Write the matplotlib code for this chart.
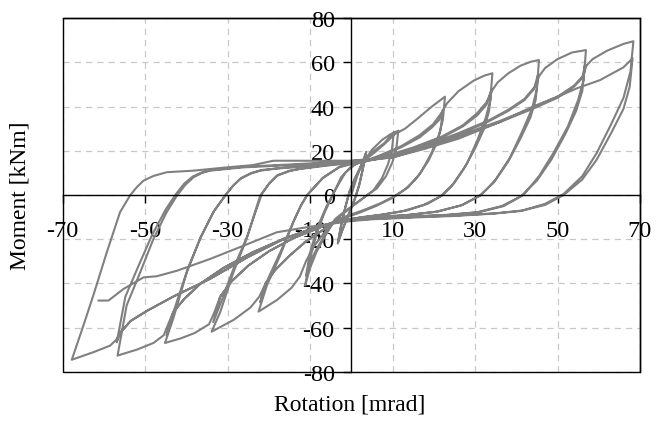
import numpy as np
import matplotlib.pyplot as plt
from matplotlib.patches import Rectangle

plt.rcParams['font.family'] = ['Liberation Serif', 'DejaVu Serif']
plt.rcParams['axes.unicode_minus'] = False

# rotation [mrad], moment [kNm], in test order
start = [(0, 0), (1.5, 9), (3, 16), (3.6, 19.5), (2.8, 12), (2, 5), (1, -1), (-0.5, -8),
         (-2, -15), (-3.3, -22), (-2.5, -14), (-1.5, -6), (-0.5, 1), (1, 8), (2.5, 14),
         (3.5, 18.5), (2.7, 11), (1.8, 4), (0.8, -2), (-0.7, -9), (-2.2, -16), (-3.2, -21),
         (-2.4, -13), (-1.4, -5), (-0.4, 2), (1, 8)]

pos_11a = [(3, 15), (5, 20.5), (7.5, 25), (9.5, 27.5), (11.4, 29.1), (10.9, 21), (10, 15),
           (8.4, 8.5), (6.2, 3), (3.5, -0.5), (1, -4), (-2, -8), (-4, -11)]
neg_11a = [(-6.5, -19), (-8.5, -26), (-10, -33), (-11.2, -41), (-10.2, -30), (-8.5, -18),
           (-6.5, -8), (-4.5, 0), (-2.5, 8), (0, 13), (3, 15.5)]
pos_11b = [(5.5, 20), (8, 23.5), (10.3, 28.4), (9.8, 20), (8.9, 14), (7.4, 7.5), (5.3, 2),
           (2.8, -1.5), (0.3, -5), (-2, -8.5), (-4, -11.5)]
neg_11b = [(-6, -17), (-8, -23), (-9.7, -29), (-11, -36.5), (-10, -26), (-8.3, -15), (-6, -5),
           (-4, 2), (-1.5, 10), (1, 14), (3, 15.5)]

pos_22a = [(5.5, 19), (8, 23), (10.5, 27.5), (13, 30), (16, 34.5), (19.5, 40), (22.7, 44.5),
           (22.2, 34), (21.2, 27), (19.3, 18.5), (16.8, 10), (13.8, 3.5), (10.5, -0.5),
           (7, -3.8), (3, -6.8), (0, -8.8), (-4, -11.5)]
neg_22a = [(-6.5, -17), (-9, -23), (-11, -30), (-12.5, -37), (-14.5, -42), (-18, -47.5),
           (-22.5, -52.8), (-20.5, -41), (-17.3, -27.5), (-14.1, -12.4), (-12.3, -5),
           (-10.8, -0.3), (-7, 7.5), (-3, 12.5), (0, 14), (3, 15)]
pos_22b = [(7, 17.5), (12, 21.5), (16.5, 26), (19.5, 30.5), (21.3, 34), (22.2, 38.5),
           (21.6, 29), (20.6, 23), (18.7, 15.5), (16, 8), (13, 2.5), (9.8, -1.5), (6, -5),
           (2, -8), (-1, -10), (-4, -11.8)]
neg_22b = [(-7, -16), (-11, -21), (-15, -27.5), (-18.5, -34), (-20.8, -40), (-22.1, -48.6),
           (-20.1, -37.5), (-17, -25), (-13.8, -11), (-12, -4), (-10.5, 0.5), (-6.8, 8),
           (-2.8, 12.8), (0, 14.3), (3, 15.2)]

pos_34a = [(7, 18), (12, 22), (16.5, 27), (19.8, 32), (21.8, 37), (23.2, 41.5), (26, 47),
           (29.6, 51.7), (32.2, 54), (34.2, 55.1), (33.7, 43), (32.6, 35), (30.6, 25),
           (28, 14), (25, 5.5), (22.2, 0), (18.5, -4), (13.5, -7), (8, -8.8), (3, -10),
           (0, -10.8), (-4, -12)]
neg_34a = [(-7, -16), (-11, -21), (-15, -27.5), (-18.5, -34), (-20.8, -40), (-22.3, -46),
           (-24.5, -51), (-28.5, -56.5), (-33.9, -61.9), (-31.8, -53), (-28.6, -35),
           (-25.4, -19.9), (-23.6, -9), (-22.1, -0.3), (-20, 5), (-18.1, 8.7), (-15, 10.8),
           (-12.4, 11.8), (-5, 13.5), (3, 15)]
pos_34b = [(8, 17), (15, 21), (22, 26), (27, 31), (30.5, 36), (32.8, 41), (34, 48),
           (33.4, 38), (32.2, 30), (30, 21), (27.3, 12), (24.3, 4), (21.5, -0.8),
           (17.5, -4.5), (12.5, -7.3), (7, -9), (2, -10.2), (-4, -12.2)]
neg_34b = [(-8, -15), (-14, -19.5), (-20, -25.5), (-25, -32), (-29, -39), (-31.8, -46),
           (-33.5, -57.6), (-31.5, -48), (-28.3, -32), (-25.1, -18), (-23.3, -8),
           (-21.7, 0.5), (-19.8, 5.5), (-17.8, 9), (-15, 11), (-12, 12), (-5, 13.8), (3, 15.2)]

pos_45a = [(8, 17.5), (15, 21.5), (22, 26.5), (27, 31.5), (30.5, 37), (32.8, 42),
           (34.2, 47.5), (35.5, 51), (38, 55), (41, 58.5), (43.5, 60.3), (45.5, 61.1),
           (45, 48), (43.8, 39), (41.5, 29), (38.5, 17), (35, 7), (31.5, 0), (27, -4.5),
           (21, -7.5), (14, -9), (6, -10), (0, -11), (-4, -12)]
neg_45a = [(-8, -15), (-14, -19.5), (-20, -25.5), (-25, -32), (-29, -39), (-31.8, -46),
           (-33.2, -53), (-34.5, -58.5), (-38, -62.5), (-41.5, -65), (-45.2, -67),
           (-43.2, -56), (-39.9, -35), (-36.7, -19.9), (-33.5, -7.8), (-30.6, -0.3),
           (-28.8, 4), (-27, 7.2), (-24.5, 9.6), (-22.1, 11), (-18, 12), (-14.1, 12.5),
           (-5, 14), (3, 15.3)]
pos_45b = [(10, 17.5), (18, 22), (26, 27.5), (33, 33), (38, 38), (42, 43), (44.3, 48),
           (45.3, 54.8), (44.7, 43), (43.4, 35), (41, 25.5), (38, 15), (34.5, 5.5),
           (31, -0.5), (26.5, -4.8), (20.5, -7.6), (13, -9.2), (5, -10.2), (0, -11),
           (-4, -12.2)]
neg_45b = [(-9, -15), (-16, -19.5), (-24, -26), (-31, -33), (-36.5, -40), (-40.5, -47),
           (-43.2, -53), (-44.8, -63.7), (-42.8, -51), (-39.6, -33), (-36.4, -18.5),
           (-33.2, -7), (-30.3, 0.5), (-28.5, 4.5), (-26.6, 7.8), (-24.2, 10),
           (-21.8, 11.3), (-14, 12.8), (-5, 14.3), (3, 15.5)]

pos_57a = [(10, 18), (18, 22.5), (26, 28), (33, 33.5), (38, 38.5), (42, 43.5), (44.5, 49),
           (45.6, 54), (47, 57.5), (50, 61.5), (53.5, 64.5), (56.9, 65.6), (56.3, 52),
           (55, 43), (52.5, 31), (49, 19), (45.5, 8.5), (41.7, 0), (37, -5), (31, -7.8),
           (24, -9), (15, -9.8), (5, -10.6), (0, -11.3), (-4, -12.3)]
neg_57a = [(-9, -15), (-16, -19.5), (-24, -26), (-31, -33), (-36.5, -40), (-40.5, -47),
           (-43.2, -53), (-44.5, -59), (-45.5, -63.5), (-48, -67), (-52, -70),
           (-56.7, -72.7), (-54.5, -50), (-51.2, -35), (-48, -19.9), (-44.8, -7.8),
           (-42.3, -0.3), (-40.3, 4.5), (-38.3, 8), (-36.3, 9.9), (-34.3, 11),
           (-26.2, 12.5), (-15, 13.5), (-5, 14.5), (3, 15.5)]
pos_57b = [(10, 17), (18, 21.5), (27, 27), (36, 33), (44, 39), (50, 44), (54, 49),
           (56, 53), (56.7, 59.3), (56, 47), (54.5, 38), (52, 28), (48.5, 16), (45, 6.5),
           (41.2, -0.5), (36.5, -5), (30.5, -7.8), (23, -9), (14, -9.8), (5, -10.7),
           (0, -11.4), (-4, -12.4)]
neg_57b = [(-10, -15.5), (-17, -20.5), (-25, -28), (-34.3, -38), (-43.2, -46),
           (-49.6, -52.5), (-53.5, -57), (-56, -62), (-56.9, -66.7), (-54.8, -46),
           (-51.6, -32), (-48.3, -18), (-45, -6.5), (-42.5, 0.5), (-40.5, 5.2),
           (-38.5, 8.3), (-36.3, 10.2), (-34, 11.3), (-26, 12.8), (-15, 13.8),
           (-5, 14.8), (3, 15.8)]

pos_68a = [(10, 17.5), (18, 22), (27, 27.5), (36, 33.5), (44, 39.5), (50, 44.5),
           (54, 49.5), (56.2, 54), (57, 58.5), (58.5, 61.5), (62, 65.3), (66, 68.4),
           (68.4, 69.6), (67.7, 56), (66, 44), (63, 32), (59.5, 19), (56, 8.5),
           (51.5, 0.5), (47, -4), (41.5, -7), (35, -8.3), (25, -9.3), (15, -10),
           (5, -10.8), (0, -11.5), (-4, -12.5)]
neg_68a = [(-10, -15.5), (-17, -20.5), (-25, -28), (-34.3, -38), (-43.2, -46),
           (-49.6, -52.5), (-53.5, -57), (-55.8, -62), (-57, -65.5), (-58.5, -68.2),
           (-62.6, -71.2), (-67.8, -74.6), (-65, -59.2), (-62.6, -45.6), (-59.3, -25.9),
           (-56.1, -7.8), (-53.7, -0.3), (-52, 3.6), (-50.4, 6.5), (-48, 8.6),
           (-44.8, 10.3), (-38.3, 11), (-30.2, 12.5), (-24, 13.5), (-18.9, 15.5),
           (-10, 15.5), (0, 15.5), (3, 16)]
pos_68b = [(10, 17), (18, 21), (26, 25.5), (36, 33), (44, 40), (50, 44.5), (55, 48.5),
           (60.3, 52), (66, 57.8), (68.2, 61.9), (67.5, 49), (66, 39), (63, 28),
           (59.5, 16), (56, 7), (51.5, 0), (47, -4.5), (41, -7.3), (34, -8.5), (25, -9.5),
           (15, -10.2), (5, -11), (0, -11.8), (-4, -12.8)]
neg_end = [(-10.8, -14.6), (-18.1, -16.9), (-26.2, -23), (-34.3, -29), (-42.3, -34.3),
           (-47.2, -36.8), (-50.4, -37.3), (-55.3, -42.6), (-58.9, -47.8), (-61.3, -47.8)]

history = [start, pos_11a, neg_11a, pos_11b, neg_11b, pos_22a, neg_22a, pos_22b, neg_22b,
           pos_34a, neg_34a, pos_34b, neg_34b, pos_45a, neg_45a, pos_45b, neg_45b,
           pos_57a, neg_57a, pos_57b, neg_57b, pos_68a, neg_68a, pos_68b, neg_end]

x_ticks = [-70, -50, -30, -10, 10, 30, 50, 70]
y_ticks = [-80, -60, -40, -20, 0, 20, 40, 60, 80]

pts = np.array([p for seg in history for p in seg])

fig = plt.figure(figsize=(6.56, 4.31), dpi=100)
ax = fig.add_axes([0.0956, 0.1353, 0.880, 0.820])
ax.plot(pts[:, 0], pts[:, 1], color='#808080', lw=1.5, solid_joinstyle='round', zorder=3)

ax.set_xlim(-70, 70)
ax.set_ylim(-80, 80)
ax.set_xticks(x_ticks)
ax.set_yticks(y_ticks)
ax.grid(True, ls=(0, (5, 4)), color='#c8c8c8', lw=0.9)
ax.set_axisbelow(True)

ax.spines['left'].set_position('zero')
ax.spines['bottom'].set_position('zero')
for s in ax.spines.values():
    s.set_linewidth(1.0)
    s.set_zorder(4)
ax.add_patch(Rectangle((0, 0), 1, 1, transform=ax.transAxes, fill=False,
                       ec='black', lw=1.0, zorder=4, clip_on=False))

ax.tick_params(direction='out', length=6, width=1, labelsize=17.5)
ax.tick_params(axis='x', pad=12)
ax.tick_params(axis='y', pad=6)

fig.text(350 / 656, 1 - 405 / 431, 'Rotation [mrad]', ha='center', va='center', fontsize=17)
fig.text(20 / 656, 1 - 196 / 431, 'Moment [kNm]', ha='center', va='center',
         rotation=90, fontsize=17)

fig.savefig('out.png', dpi=100)
